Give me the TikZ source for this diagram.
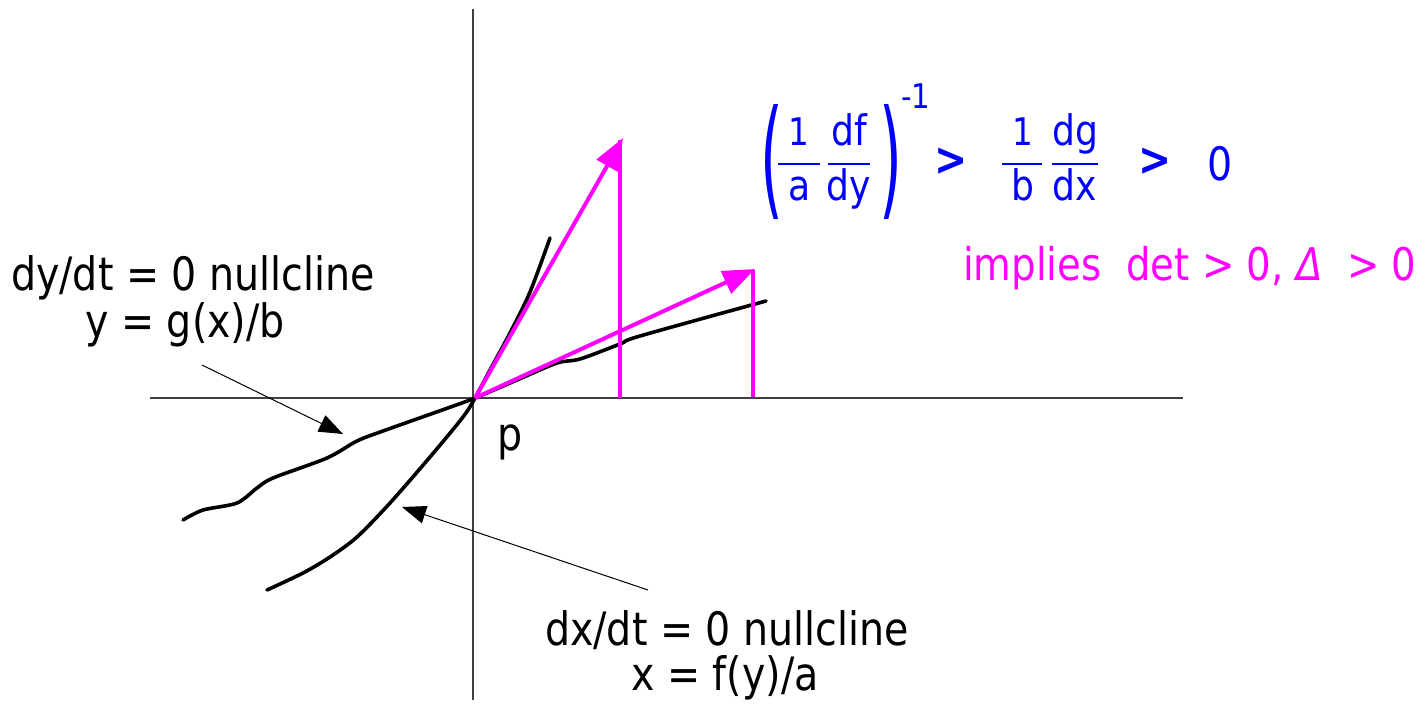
\documentclass[tikz,border=0pt]{standalone}
\usepackage{fontspec}
\setmainfont{DejaVu Sans}[FakeStretch=0.86]
\usetikzlibrary{arrows.meta}
\definecolor{mag}{RGB}{255,0,255}
\definecolor{eqblue}{RGB}{0,0,255}
\tikzset{
  axis/.style={line width=1.3pt,black!75},
  ncurve/.style={line width=3.6pt,black,line cap=round,line join=round},
  magvec/.style={line width=4pt,mag,-{Triangle[length=32pt,width=24pt]}},
  magline/.style={line width=3.5pt,mag},
  pointer/.style={line width=1pt,black,-{Triangle[length=24pt,width=18pt]}},
  lbl/.style={inner sep=0pt,anchor=base,font=\fontsize{46}{50}\selectfont},
  eq/.style={inner sep=0pt,anchor=base,text=eqblue,font=\fontsize{42}{46}\selectfont},
  eqone/.style={inner sep=0pt,anchor=base,text=eqblue,font=\fontsize{38}{40}\selectfont},
  paren/.style={inner sep=0pt,text=eqblue,font=\fontsize{68}{72}\selectfont},
  fbar/.style={line width=2pt,eqblue},
}
\begin{document}
\begin{tikzpicture}[x=1pt,y=-1pt]
\useasboundingbox (0,0) rectangle (1425,707);
% axes
\coordinate (vtop) at (473,9);
\coordinate (vbot) at (473,700);
\coordinate (hl) at (150,398);
\coordinate (hr) at (1183,398);
\draw[axis] (vtop) -- (vbot);
\draw[axis] (hl) -- (hr);
\coordinate (p0) at (475,398);
% nullclines
\draw[ncurve] plot[smooth,tension=0.5] coordinates {(267,590) (303,573) (330,557) (357,537) (390,503) (430,457) (463,417) (475,398) (490,370) (510,333) (530,292) (550,238)};
\draw[ncurve] plot[smooth,tension=0.5] coordinates {(183,520) (203,510) (237,503) (257,488) (273,478) (327,458) (357,441) (383,431) (445,409) (475,398) (517,380) (557,363) (580,359) (620,344) (640,336) (766,301)};
% magenta vectors
\coordinate (t1) at (623,138);
\coordinate (t2) at (755,269);
\coordinate (v1top) at (620,140);
\coordinate (v1bot) at (620,398);
\coordinate (v2top) at (753,270);
\coordinate (v2bot) at (753,397);
\draw[magline] (v1bot) -- (v1top);
\draw[magline] (v2bot) -- (v2top);
\draw[magvec] (p0) -- (t1);
\draw[magvec] (p0) -- (t2);
% labels
\node[lbl] (dyl1) at (193,290) {dy/dt = 0 nullcline};
\node[lbl] (dyl2) at (185,337) {y = g(x)/b};
\node[lbl] (dxl1) at (727,645) {dx/dt = 0 nullcline};
\node[lbl] (dxl2) at (725,690) {x = f(y)/a};
\node[lbl] (plbl) at (510,450) {p};
% pointers
\coordinate (a1tail) at (202,365);
\coordinate (a1tip) at (343,434);
\coordinate (a2tail) at (648,590);
\coordinate (a2tip) at (402,507);
\draw[pointer] (a1tail) -- (a1tip);
\draw[pointer] (a2tail) -- (a2tip);
% formula
\node[paren] (lp) at (772,162) {\scalebox{1}[1.9]{(}};
\node[eqone] (n1) at (799,145) {1};
\draw[fbar] (778,164) -- (820,164);
\node[eq] (d1) at (800,200) {a};
\node[eq] (n2) at (849,145) {df};
\draw[fbar] (828,164) -- (870,164);
\node[eq] (d2) at (849,200) {dy};
\node[paren] (rp) at (891,162) {\scalebox{1}[1.9]{)}};
\node[inner sep=0pt,anchor=base,text=eqblue,font=\fontsize{34}{38}\selectfont] (ex) at (916,108) {-1};
\node[inner sep=0pt,text=eqblue,font=\fontsize{46}{50}\selectfont\bfseries] (gt1) at (951,162) {>};
\node[eqone] (n3) at (1023,145) {1};
\draw[fbar] (1002,164) -- (1042,164);
\node[eq] (d3) at (1023,200) {b};
\node[eq] (n4) at (1075,145) {dg};
\draw[fbar] (1052,164) -- (1098,164);
\node[eq] (d4) at (1075,200) {dx};
\node[inner sep=0pt,text=eqblue,font=\fontsize{46}{50}\selectfont\bfseries] (gt2) at (1155,162) {>};
\node[lbl,text=eqblue] (zero) at (1220,180) {0};
% implies
\node[inner sep=0pt,anchor=base west,text=mag,font=\fontsize{45}{50}\selectfont] (imp) at (963,280) {implies\ \ det > 0, \textit{Δ}\ \ > 0};
\end{tikzpicture}
\end{document}
